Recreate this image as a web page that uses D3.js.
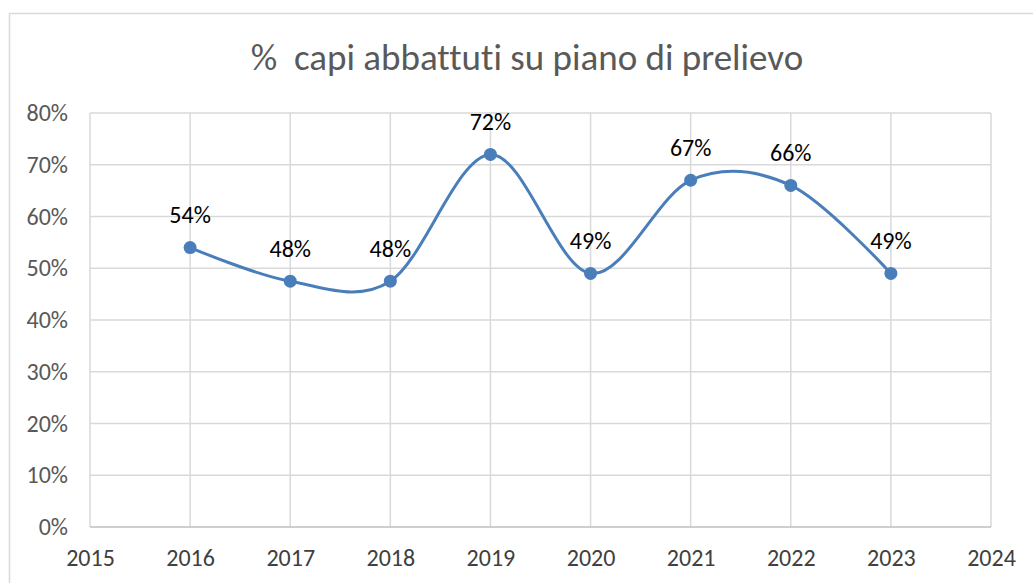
<!DOCTYPE html>
<html><head><meta charset="utf-8">
<script src="https://cdn.jsdelivr.net/npm/d3@7"></script>
<style>body{margin:0;background:#fff;}svg{display:block;}text{font-variant-ligatures:none;font-feature-settings:"liga" 0,"clig" 0;}</style>
</head><body>
<svg id="c" width="1033" height="583"></svg>
<script>
const years = [2016, 2017, 2018, 2019, 2020, 2021, 2022, 2023];
const values = [0.54, 0.475, 0.475, 0.72, 0.49, 0.67, 0.66, 0.49];
const xTicks = [2015, 2016, 2017, 2018, 2019, 2020, 2021, 2022, 2023, 2024];
const yTicks = [0, 0.1, 0.2, 0.3, 0.4, 0.5, 0.6, 0.7, 0.8];
const title = "%  capi abbattuti su piano di prelievo";

const font = "Carlito, Calibri, Lato, sans-serif";
const svg = d3.select("#c");
const x = d3.scaleLinear().domain([2015, 2024]).range([90, 991]);
const y = d3.scaleLinear().domain([0, 0.8]).range([527, 113]);

svg.append("rect").attr("x", 9.5).attr("y", 13.5).attr("width", 1040).attr("height", 600)
  .attr("fill", "#fff").attr("stroke", "#d9d9d9").attr("stroke-width", 1.5);

svg.append("text").attr("x", 527).attr("y", 70).attr("text-anchor", "middle")
  .attr("font-family", font).attr("font-size", 37).attr("fill", "#595959")
  .attr("xml:space", "preserve").style("white-space", "pre").text(title);

// gridlines
const grid = svg.append("g");
grid.selectAll("line.h").data(yTicks.filter(d => d > 0)).join("line")
  .attr("x1", x(2015)).attr("x2", x(2024)).attr("y1", d => y(d)).attr("y2", d => y(d))
  .attr("stroke", "#d9d9d9").attr("stroke-width", 1.5);
grid.selectAll("line.v").data(xTicks).join("line")
  .attr("x1", d => x(d)).attr("x2", d => x(d)).attr("y1", y(0)).attr("y2", y(0.8))
  .attr("stroke", "#d9d9d9").attr("stroke-width", 1.5);
svg.append("line").attr("x1", x(2015)).attr("x2", x(2024)).attr("y1", y(0)).attr("y2", y(0))
  .attr("stroke", "#bfbfbf").attr("stroke-width", 1.5);

// axes labels
const yAxis = d3.axisLeft(y).tickValues(yTicks).tickFormat(d3.format(".0%")).tickSize(0).tickPadding(22);
const gy = svg.append("g").attr("transform", `translate(${x(2015)},0)`).call(yAxis);
gy.select(".domain").remove();
gy.selectAll("text").attr("font-family", font).attr("font-size", 24).attr("fill", "#595959");

const xAxis = d3.axisBottom(x).tickValues(xTicks).tickFormat(d3.format("d")).tickSize(0).tickPadding(22);
const gx = svg.append("g").attr("transform", `translate(0,${y(0)})`).call(xAxis);
gx.select(".domain").remove();
gx.selectAll("text").attr("font-family", font).attr("font-size", 24).attr("fill", "#404040");

const data = years.map((yr, i) => ({yr, v: values[i]}));
const line = d3.line().x(d => x(d.yr)).y(d => y(d.v)).curve(d3.curveCatmullRom.alpha(0));
svg.append("path").datum(data).attr("d", line).attr("fill", "none")
  .attr("stroke", "#4a7ebb").attr("stroke-width", 3);
svg.selectAll("circle.pt").data(data).join("circle")
  .attr("cx", d => x(d.yr)).attr("cy", d => y(d.v)).attr("r", 6.5).attr("fill", "#4a7ebb");
svg.selectAll("text.lbl").data(data).join("text")
  .attr("x", d => x(d.yr)).attr("y", d => y(d.v) - 24.5).attr("text-anchor", "middle")
  .attr("font-family", font).attr("font-size", 24).attr("fill", "#000")
  .text(d => d3.format(".0%")(d.v));
</script>
</body></html>
